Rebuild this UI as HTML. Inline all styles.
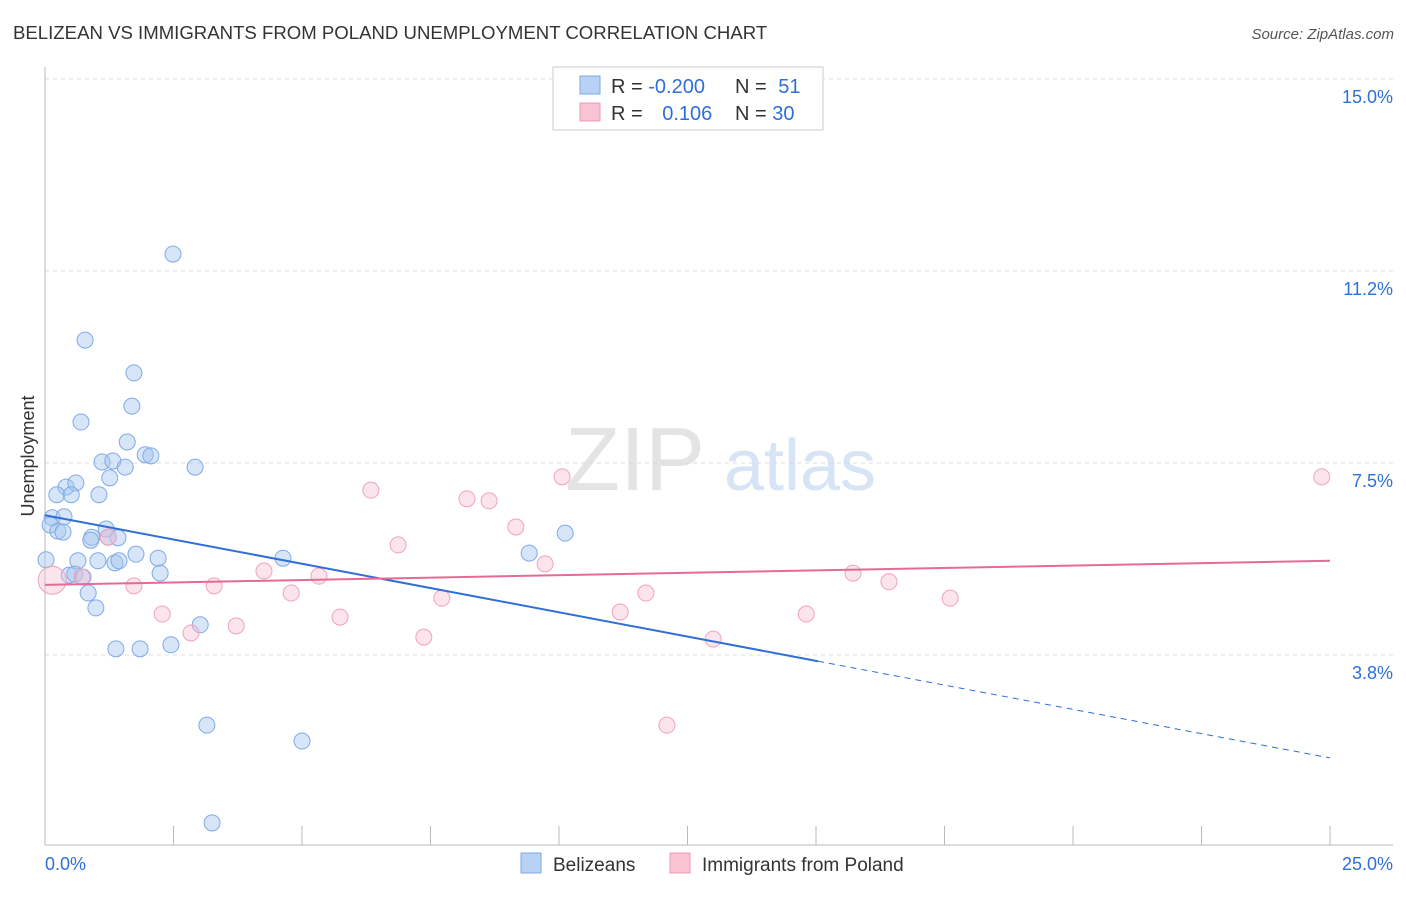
<!DOCTYPE html>
<html><head><meta charset="utf-8"><style>
body{margin:0;background:#fff;font-family:"Liberation Sans",sans-serif}
svg text{font-family:"Liberation Sans",sans-serif}
</style></head><body>
<svg id="c" width="1406" height="892">
<text x="13" y="39" font-size="18.6" fill="#333">BELIZEAN VS IMMIGRANTS FROM POLAND UNEMPLOYMENT CORRELATION CHART</text>
<text x="1394" y="39" font-size="15" fill="#555" text-anchor="end" font-style="italic">Source: ZipAtlas.com</text>
<text x="635" y="490" font-size="90" fill="#e4e4e4" font-family="Liberation Serif" text-anchor="middle">ZIP</text>
<text x="800" y="490" font-size="72" fill="#d6e4f5" text-anchor="middle">atlas</text>
<text transform="translate(34,456) rotate(-90)" font-size="18" fill="#333" text-anchor="middle">Unemployment</text>
<g id="grid"></g><g id="marks"></g>
<g>
<rect x="553" y="67" width="270" height="63" fill="#fff" stroke="#ccc"/>
<rect x="580" y="76" width="20" height="18" fill="#b8d2f5" stroke="#7fa8e0"/>
<rect x="580" y="103" width="20" height="18" fill="#f8c4d4" stroke="#ee9ab5"/>
<text x="611" y="93" font-size="20" fill="#333">R = <tspan fill="#2f6fd6">-0.200</tspan></text>
<text x="735" y="93" font-size="20" fill="#333">N = <tspan fill="#2f6fd6" dx="6">51</tspan></text>
<text x="611" y="120" font-size="20" fill="#333">R = <tspan fill="#2f6fd6" dx="14">0.106</tspan></text>
<text x="735" y="120" font-size="20" fill="#333">N = <tspan fill="#2f6fd6">30</tspan></text>
</g>
<g>
<rect x="521" y="853" width="20" height="20" fill="#b8d2f5" stroke="#7fa8e0"/>
<text x="553" y="871" font-size="19" fill="#333">Belizeans</text>
<rect x="670" y="853" width="20" height="20" fill="#f8c4d4" stroke="#ee9ab5"/>
<text x="702" y="871" font-size="19" fill="#333">Immigrants from Poland</text>
</g>
</svg>
<script>
const xTicks=[0,25];
const yTicks=[3.75,7.5,11.25,15];
const yTickLabels=["3.8%","7.5%","11.2%","15.0%"];
const blueX=[2.49,0.78,1.73,1.69,0.70,1.60,1.11,1.32,1.56,1.95,2.06,2.92,0.41,0.60,0.23,0.51,1.05,1.26,0.14,0.37,0.10,0.25,0.35,1.19,0.91,1.42,1.23,0.02,0.64,1.03,1.36,1.77,2.20,2.24,0.47,0.58,0.74,0.84,0.99,3.02,1.38,1.85,2.45,3.15,5.00,3.25,4.63,9.42,10.12,0.89,1.44];
const blueY=[11.58,9.90,9.26,8.61,8.30,7.91,7.52,7.54,7.42,7.66,7.64,7.42,7.03,7.11,6.88,6.88,6.88,7.21,6.43,6.45,6.29,6.17,6.15,6.21,6.05,6.04,6.05,5.61,5.59,5.59,5.55,5.72,5.64,5.35,5.31,5.33,5.27,4.96,4.67,4.34,3.87,3.87,3.95,2.38,2.07,0.47,5.64,5.74,6.13,5.99,5.59];
const pinkX=[0.14,0.72,1.73,2.28,2.84,3.29,3.72,4.26,4.79,5.33,5.74,6.34,6.87,7.37,7.72,8.21,8.64,9.16,9.73,10.06,11.19,11.69,12.10,13.00,14.81,15.72,16.42,17.61,24.84,1.23];
const pinkY=[5.21,5.27,5.10,4.55,4.18,5.10,4.32,5.39,4.96,5.29,4.49,6.97,5.90,4.10,4.86,6.80,6.76,6.25,5.53,7.23,4.59,4.96,2.38,4.06,4.55,5.35,5.18,4.86,7.23,6.05];
const blueTrend=[6.48,1.74], blueSolidEnd=15.04;
const pinkTrend=[5.12,5.59];
const X=v=>45+v*(1285/25), Y=v=>847-v*51.2;
const NS="http://www.w3.org/2000/svg";
function mk(p,t,a){const e=document.createElementNS(NS,t);for(const k in a)e.setAttribute(k,a[k]);p.appendChild(e);return e;}
const g=document.getElementById('grid'),m=document.getElementById('marks');
yTicks.forEach((v,i)=>{
 const l=mk(g,'line',{x1:45,x2:1393,y1:Y(v),y2:Y(v),stroke:'#ddd','stroke-dasharray':'4,4'});
 
 
 const t=mk(g,'text',{x:1393,y:Y(v)+24,'font-size':18,fill:'#2f6fd6','text-anchor':'end'});
 t.textContent=yTickLabels[i];
 
 
});
mk(g,'line',{x1:45,x2:45,y1:67,y2:845,stroke:'#bbb'});
mk(g,'line',{x1:45,x2:1393,y1:845,y2:845,stroke:'#bbb'});
for(let i=0;i<=10;i++){const x=X(i*2.5);const tk=mk(g,'line',{x1:x,x2:x,y1:826,y2:845,stroke:'#bbb'});
 
 }
xTicks.forEach((v,i)=>{const t=mk(g,'text',{x:i?1393:45,y:870,'font-size':18,fill:'#2f6fd6','text-anchor':i?'end':'start'});t.textContent=v.toFixed(1)+'%';
 
 });
blueX.forEach((v,i)=>{const c=mk(m,'circle',{cx:X(v),cy:Y(blueY[i]),r:8,fill:'rgba(165,198,240,0.45)',stroke:'#80aae6','stroke-width':1});
 
 });
pinkX.forEach((v,i)=>{const c=mk(m,'circle',{cx:X(v),cy:Y(pinkY[i]),r:i==0?14:8,fill:'rgba(247,188,208,0.4)',stroke:'#f0a3bd','stroke-width':1});
 
 });
const by=x=>blueTrend[0]+(blueTrend[1]-blueTrend[0])*x/25;
const bl=mk(m,'line',{x1:X(0),y1:Y(by(0)),x2:X(blueSolidEnd),y2:Y(by(blueSolidEnd)),stroke:'#2f6fd6','stroke-width':2});


const bd=mk(m,'line',{x1:X(blueSolidEnd),y1:Y(by(blueSolidEnd)),x2:X(25),y2:Y(by(25)),stroke:'#2f6fd6','stroke-width':1,'stroke-dasharray':'6,5'});


const pl=mk(m,'line',{x1:X(0),y1:Y(pinkTrend[0]),x2:X(25),y2:Y(pinkTrend[1]),stroke:'#e66a96','stroke-width':2});


</script>
</body></html>
